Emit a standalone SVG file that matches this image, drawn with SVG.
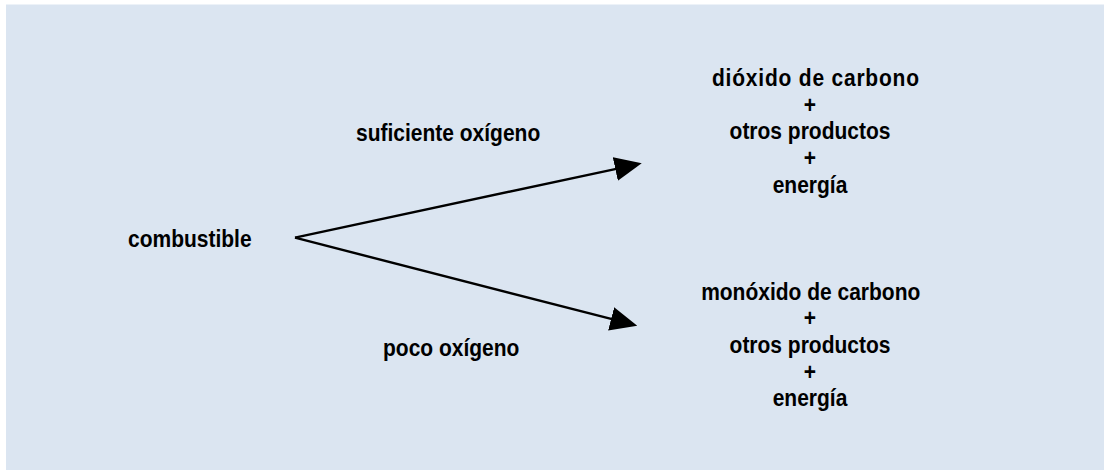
<svg xmlns="http://www.w3.org/2000/svg" width="1104" height="470" viewBox="0 0 1104 470">
  <style>
    .t { font-family: "Liberation Sans", Arial, sans-serif; font-weight: bold; font-size: 21px; fill: #000; }
    .c { text-anchor: middle; }
    .conn { stroke: #000; stroke-width: 2.4; fill: none; }
  </style>
  <defs>
    <marker id="arrow" markerUnits="userSpaceOnUse" markerWidth="27" markerHeight="24" refX="1" refY="12" orient="auto">
      <path d="M0,0 L27,12 L0,24 z" fill="#000"/>
    </marker>
  </defs>
  <rect x="0" y="0" width="1104" height="470" fill="#ffffff"/>
  <rect x="6" y="4.5" width="1098" height="465.5" fill="#dbe5f1"/>

  <g id="connectors">
    <path class="conn" d="M295,237.7 L616.3,168.8" marker-end="url(#arrow)"/>
    <path class="conn" d="M295,237.7 L612.1,319.2" marker-end="url(#arrow)"/>
  </g>

  <g id="combustible">
    <text class="t" transform="translate(128,247) scale(1,1.15)">combustible</text>
  </g>
  <g id="label-suficiente">
    <text class="t" transform="translate(356,140.7) scale(1,1.15)">suficiente oxígeno</text>
  </g>
  <g id="label-poco">
    <text class="t" transform="translate(383,355.7) scale(1,1.15)">poco oxígeno</text>
  </g>
  <g id="productos-completa">
    <text class="t c" transform="translate(815.5,86) scale(1,1.15)" textLength="207" lengthAdjust="spacing">dióxido de carbono</text>
    <text class="t c" transform="translate(810,112.7) scale(1,1.15)">+</text>
    <text class="t c" transform="translate(810,139.4) scale(1,1.15)">otros productos</text>
    <text class="t c" transform="translate(810,166.1) scale(1,1.15)">+</text>
    <text class="t c" transform="translate(810,192.8) scale(1,1.15)">energía</text>
  </g>
  <g id="productos-incompleta">
    <text class="t c" transform="translate(810.7,299.5) scale(1,1.15)">monóxido de carbono</text>
    <text class="t c" transform="translate(810,326.2) scale(1,1.15)">+</text>
    <text class="t c" transform="translate(810,352.9) scale(1,1.15)">otros productos</text>
    <text class="t c" transform="translate(810,379.6) scale(1,1.15)">+</text>
    <text class="t c" transform="translate(810,406.3) scale(1,1.15)">energía</text>
  </g>
</svg>
